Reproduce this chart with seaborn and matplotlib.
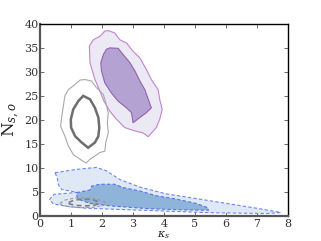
import numpy as np
import matplotlib
matplotlib.use("Agg")
import matplotlib.pyplot as plt
import seaborn as sns

# contour outlines (kappa_s, N_s,o)
purple_outer_x = [2.20, 2.41, 2.57, 2.79, 3.00, 3.22, 3.43, 3.59, 3.81, 3.86, 3.94, 3.86, 3.75, 3.49,
                  3.32, 3.06, 2.73, 2.47, 2.25, 2.06, 1.93, 1.77, 1.61, 1.59, 1.72, 1.93, 2.09]
purple_outer_y = [38.6, 38.1, 36.7, 36.0, 34.3, 32.9, 30.5, 28.4, 26.3, 24.3, 22.2, 20.1, 18.4, 16.5,
                  17.3, 17.7, 18.4, 20.1, 21.8, 23.9, 26.0, 28.4, 31.9, 35.4, 36.7, 37.4, 38.5]

purple_inner_x = [2.25, 2.52, 2.68, 2.90, 3.06, 3.22, 3.38, 3.49, 3.59, 3.43, 3.22, 3.00, 2.95,
                  2.79, 2.52, 2.30, 2.09, 1.98, 1.96, 2.04, 2.14]
purple_inner_y = [35.0, 34.9, 33.6, 31.9, 30.2, 28.1, 26.3, 24.3, 22.5, 21.5, 20.5, 19.4, 21.5,
                  22.5, 23.9, 25.6, 27.7, 30.2, 31.9, 33.6, 34.7]

gray_outer_x = [1.45, 1.66, 1.82, 2.04, 2.12, 2.20, 2.17, 2.20, 2.12, 2.09, 1.93, 1.77, 1.61, 1.48,
                1.29, 1.07, 0.91, 0.80, 0.66, 0.70, 0.75, 0.80, 0.91, 1.13, 1.29]
gray_outer_y = [28.4, 28.1, 26.7, 25.3, 23.6, 21.5, 19.4, 17.3, 15.3, 13.5, 13.2, 12.5, 11.8, 11.0,
                11.8, 12.8, 14.6, 16.6, 18.7, 20.8, 22.9, 25.0, 26.3, 27.4, 28.3]

gray_inner_x = [1.39, 1.61, 1.77, 1.88, 1.91, 1.88, 1.77, 1.55, 1.34, 1.13, 1.00, 0.99, 1.07, 1.23]
gray_inner_y = [25.0, 24.3, 22.5, 20.5, 18.4, 16.6, 15.3, 14.2, 15.3, 16.6, 18.4, 20.1, 22.2, 23.9]

blue_outer_x = [0.48, 1.18, 1.82, 2.14, 2.57, 3.22, 4.07, 5.15, 6.22, 7.18, 7.77, 7.30, 6.22, 5.36,
                4.07, 2.79, 1.50, 0.86, 0.43, 0.30, 0.45, 1.20, 0.70, 0.59, 0.55]
blue_outer_y = [9.0, 9.7, 10.1, 9.4, 7.6, 6.0, 4.6, 3.5, 2.4, 1.4, 0.7, 0.5, 0.6, 0.7,
                1.0, 1.3, 1.6, 2.0, 2.5, 3.4, 4.5, 4.9, 5.5, 6.5, 8.0]

blue_inner_x = [1.18, 1.61, 1.66, 1.93, 2.41, 2.68, 3.22, 3.75, 4.40, 5.04, 5.41, 5.44, 4.72, 3.54,
                2.25, 1.61, 1.23, 1.18]
blue_inner_y = [4.85, 5.4, 6.2, 6.6, 6.6, 5.9, 5.2, 4.2, 3.5, 2.6, 1.7, 1.2, 1.25, 1.5,
                2.1, 2.6, 3.5, 4.2]

# small dashed gray rings near the bottom left
ring_outer_x = [0.64, 0.80, 1.10, 1.45, 1.85, 2.14, 2.05, 1.70, 1.30, 0.95, 0.72]
ring_outer_y = [2.6, 3.3, 3.7, 3.8, 3.5, 2.8, 2.2, 1.8, 1.7, 1.9, 2.2]
ring_inner_x = [0.92, 1.10, 1.40, 1.70, 1.90, 1.80, 1.50, 1.15, 0.95]
ring_inner_y = [2.8, 3.3, 3.5, 3.4, 2.9, 2.3, 2.1, 2.2, 2.5]

xticks = list(range(0, 9))
yticks = list(range(0, 41, 5))

sns.set_theme(style="ticks")
plt.rcParams["font.family"] = ["DejaVu Serif"]
plt.rcParams["mathtext.fontset"] = "dejavuserif"

fig = plt.figure(figsize=(3.21, 2.41), dpi=100)
ax = fig.add_axes([0.125, 0.104, 0.772, 0.797])

dash = (0, (3, 2))
ax.fill(blue_outer_x, blue_outer_y, facecolor="#dfe9f6", edgecolor="#6f85ee", lw=0.8, ls=dash)
ax.fill(blue_inner_x, blue_inner_y, facecolor="#8fb4da", edgecolor="#5a6fe6", lw=0.8, ls=dash)
ax.fill(ring_outer_x, ring_outer_y, facecolor="none", edgecolor="#9a9a9a", lw=0.8, ls=dash)
ax.fill(ring_inner_x, ring_inner_y, facecolor="none", edgecolor="#808080", lw=1.2, ls=dash)

ax.fill(purple_outer_x, purple_outer_y, facecolor="#ebe9f4", edgecolor="#c682cc", lw=0.8)
ax.fill(purple_inner_x, purple_inner_y, facecolor="#b3a2d2", edgecolor="#9462ac", lw=0.8)
ax.fill(gray_outer_x, gray_outer_y, facecolor="none", edgecolor="#a8a8a8", lw=0.8)
ax.fill(gray_inner_x, gray_inner_y, facecolor="none", edgecolor="#6e6e6e", lw=1.8)

ax.set_xlim(0, 8)
ax.set_ylim(0, 40)
ax.set_xticks(xticks)
ax.set_yticks(yticks)
ax.tick_params(direction="in", top=True, right=True, length=3, width=0.6,
               labelsize=8, pad=1, colors="#555555", labelcolor="#333333")
ax.tick_params(axis="x", pad=2.5)
for s in ["top", "right"]:
    ax.spines[s].set_linewidth(1.0)
    ax.spines[s].set_color("black")
for s in ["left", "bottom"]:
    ax.spines[s].set_linewidth(1.6)
    ax.spines[s].set_color("#555555")

ax.set_xlabel(r"$\kappa_s$", fontsize=8, labelpad=0)
ax.set_ylabel(r"$\mathregular{N}_{s,o}$", fontsize=12, labelpad=2)

fig.savefig("out.png", dpi=100)
